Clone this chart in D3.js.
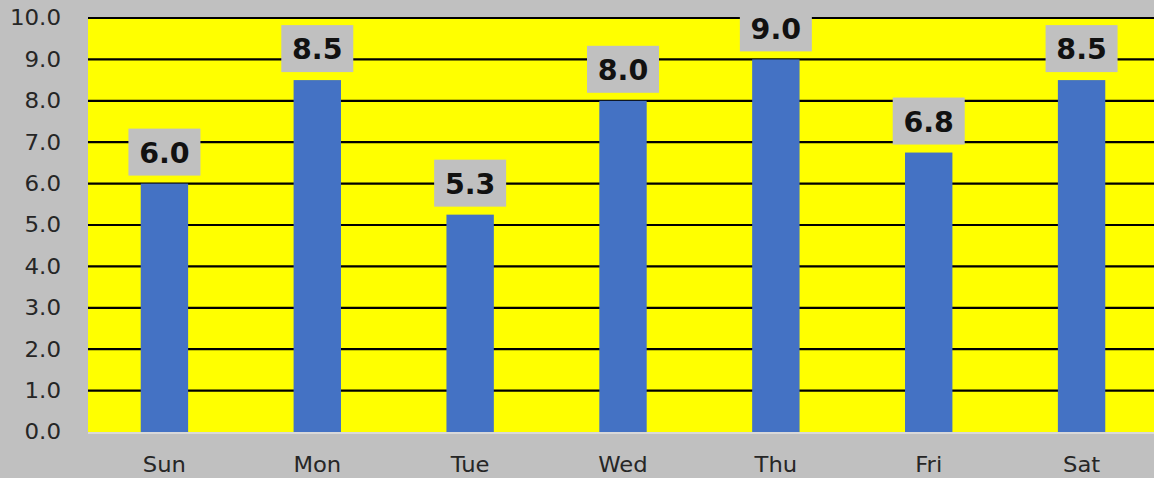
<!DOCTYPE html>
<html><head><meta charset="utf-8">
<script src="https://cdn.jsdelivr.net/npm/d3@7"></script>
<style>html,body{margin:0;padding:0;background:#c0c0c0;overflow:hidden}</style>
</head><body>
<svg id="chart" width="1154" height="478"></svg>
<script>
const categories = ["Sun","Mon","Tue","Wed","Thu","Fri","Sat"];
const values = [6.0, 8.5, 5.25, 8.0, 9.0, 6.75, 8.5];
const yTicks = [0,1,2,3,4,5,6,7,8,9,10];

const W = 1154, H = 478;
const plotL = 88, plotR = 1158, plotT = 18, plotB = 432;
const svg = d3.select("#chart");
svg.append("rect").attr("width", W).attr("height", H).attr("fill", "#c0c0c0");

const x = d3.scaleBand().domain(categories).range([plotL, plotR]).paddingInner(0.69).paddingOuter(0.345);
const y = d3.scaleLinear().domain([0, 10]).range([plotB, plotT]);

svg.append("rect").attr("x", plotL).attr("y", plotT).attr("width", plotR - plotL).attr("height", plotB - plotT).attr("fill", "#ffff00");
svg.append("line").attr("x1", plotL).attr("x2", plotR).attr("y1", plotB + 1).attr("y2", plotB + 1).attr("stroke", "#d9d9d9").attr("stroke-width", 2);

svg.selectAll("line.grid").data(yTicks.filter(d => d > 0)).enter().append("line")
  .attr("class", "grid").attr("x1", plotL).attr("x2", plotR)
  .attr("y1", d => y(d)).attr("y2", d => y(d))
  .attr("stroke", "#000").attr("stroke-width", 2.2);

const fmt = d3.format(".1f");
svg.selectAll("text.ytick").data(yTicks).enter().append("text")
  .attr("class", "ytick")
  .attr("transform", d => `translate(61,${y(d)}) scale(1.12,1)`)
  .attr("dy", "0.36em").attr("text-anchor", "end")
  .attr("font-family", "DejaVu Sans").attr("font-size", 20.5).attr("fill", "#262626")
  .text(d => fmt(d));

svg.selectAll("rect.bar").data(values).enter().append("rect")
  .attr("class", "bar")
  .attr("x", (d, i) => x(categories[i])).attr("width", x.bandwidth())
  .attr("y", d => y(d)).attr("height", d => plotB - y(d))
  .attr("fill", "#4472c4");

const bw = 72, bh = 47, gap = 8;
svg.selectAll("rect.lbl").data(values).enter().append("rect")
  .attr("class", "lbl")
  .attr("x", (d, i) => x(categories[i]) + x.bandwidth() / 2 - bw / 2)
  .attr("y", d => y(d) - gap - bh).attr("width", bw).attr("height", bh)
  .attr("fill", "#c0c0c0");

svg.selectAll("text.val").data(values).enter().append("text")
  .attr("class", "val")
  .attr("x", (d, i) => x(categories[i]) + x.bandwidth() / 2)
  .attr("y", d => y(d) - gap - bh / 2).attr("dy", "0.38em")
  .attr("text-anchor", "middle")
  .attr("font-family", "DejaVu Sans").attr("font-weight", "bold").attr("font-size", 28.5).attr("fill", "#111")
  .text(d => fmt(d));

svg.selectAll("text.xl").data(categories).enter().append("text")
  .attr("class", "xl")
  .attr("transform", d => `translate(${x(d) + x.bandwidth() / 2},471.5) scale(1.08,1)`)
  .attr("text-anchor", "middle")
  .attr("font-family", "DejaVu Sans").attr("font-size", 21).attr("fill", "#262626")
  .text(d => d);
</script>
</body></html>
